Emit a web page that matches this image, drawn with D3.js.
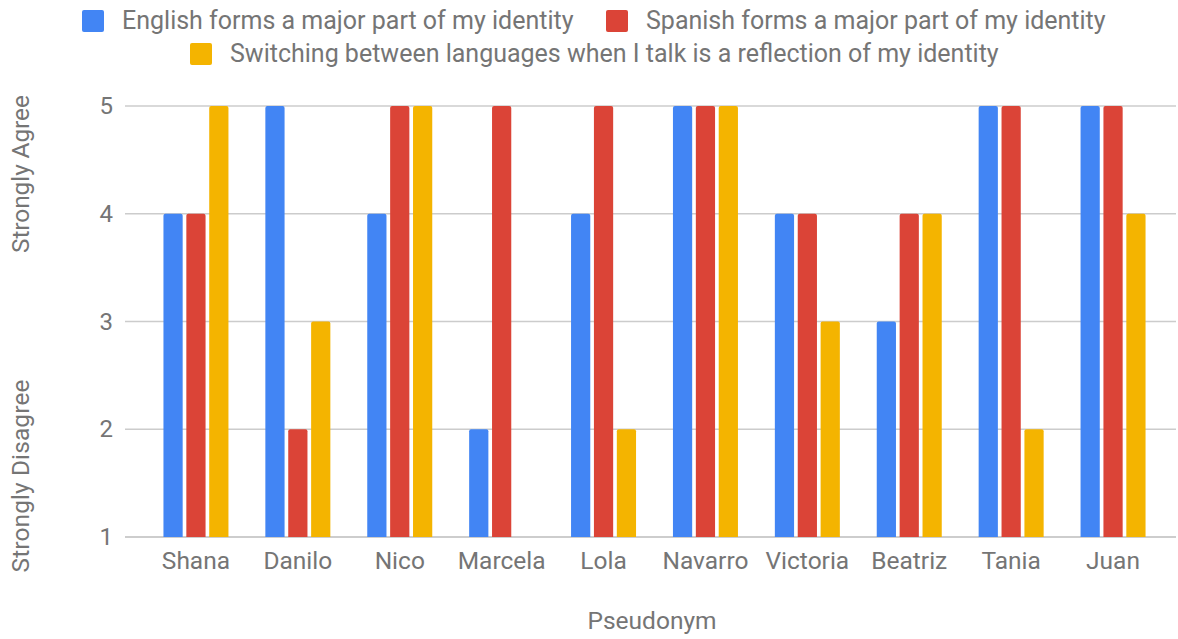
<!DOCTYPE html>
<html>
<head>
<meta charset="utf-8">
<script src="https://cdn.jsdelivr.net/npm/d3@7"></script>
<style>
  body { margin: 0; background: #fff; }
  text { font-family: Roboto, "Noto Sans", sans-serif; fill: #757575; }
</style>
</head>
<body>
<div id="chart"></div>
<script>
var names = ["Shana", "Danilo", "Nico", "Marcela", "Lola", "Navarro", "Victoria", "Beatriz", "Tania", "Juan"];
var seriesNames = [
  "English forms a major part of my identity",
  "Spanish forms a major part of my identity",
  "Switching between languages when I talk is a reflection of my identity"
];
var english   = [4, 5, 4, 2, 4, 5, 4, 3, 5, 5];
var spanish   = [4, 2, 5, 5, 5, 5, 4, 4, 5, 5];
var switching = [5, 3, 5, 1, 2, 5, 3, 4, 2, 4];
var yTicks = [1, 2, 3, 4, 5];
var colors = ["#4285F4", "#DB4437", "#F4B400"];

var W = 1178, H = 639;
var svg = d3.select("#chart").append("svg")
    .attr("width", W)
    .attr("height", H);

var x = d3.scaleBand().domain(names).range([145, 1164]);
var inner = d3.scaleBand().domain([0, 1, 2])
    .range([(x.bandwidth() - 65) / 2, (x.bandwidth() + 65) / 2])
    .paddingInner(0.16);
var y = d3.scaleLinear().domain([1, 5]).range([537, 106]);

// gridlines
svg.append("g").selectAll("line")
    .data(yTicks)
    .enter().append("line")
    .attr("x1", 125).attr("x2", 1176)
    .attr("y1", function(d) { return y(d); })
    .attr("y2", function(d) { return y(d); })
    .attr("stroke", function(d) { return d === 1 ? "#bdbdbd" : "#cccccc"; })
    .attr("stroke-width", 1.5);

// y tick labels
svg.append("g").selectAll("text")
    .data(yTicks)
    .enter().append("text")
    .attr("x", 113)
    .attr("y", function(d) { return y(d) + 8; })
    .attr("text-anchor", "end")
    .style("font-size", "24px")
    .text(function(d) { return d; });

// bars
var rows = [];
names.forEach(function(n, i) {
    [english, spanish, switching].forEach(function(s, j) {
        rows.push({ name: n, k: j, v: s[i] });
    });
});

svg.append("g").selectAll("path")
    .data(rows.filter(function(d) { return d.v > 1; }))
    .enter().append("path")
    .attr("fill", function(d) { return colors[d.k]; })
    .attr("d", function(d) {
        var x0 = x(d.name) + inner(d.k), w = inner.bandwidth();
        var y0 = y(d.v), y1 = y(1), r = 2;
        return "M" + x0 + "," + y1 + "V" + (y0 + r) +
            "Q" + x0 + "," + y0 + " " + (x0 + r) + "," + y0 +
            "H" + (x0 + w - r) +
            "Q" + (x0 + w) + "," + y0 + " " + (x0 + w) + "," + (y0 + r) +
            "V" + y1 + "Z";
    });

// x labels
svg.append("g").selectAll("text")
    .data(names)
    .enter().append("text")
    .attr("x", function(d) { return x(d) + x.bandwidth() / 2; })
    .attr("y", 569)
    .attr("text-anchor", "middle")
    .style("font-size", "24.5px")
    .text(function(d) { return d; });

// axis titles
svg.append("text")
    .attr("x", 652).attr("y", 629)
    .attr("text-anchor", "middle")
    .style("font-size", "24.5px")
    .text("Pseudonym");

svg.append("text")
    .attr("transform", "translate(29,174) rotate(-90)")
    .attr("text-anchor", "middle")
    .style("font-size", "24.5px")
    .attr("textLength", 158)
    .attr("lengthAdjust", "spacing")
    .text("Strongly Agree");

svg.append("text")
    .attr("transform", "translate(29,476) rotate(-90)")
    .attr("text-anchor", "middle")
    .style("font-size", "24.5px")
    .attr("textLength", 193)
    .attr("lengthAdjust", "spacing")
    .text("Strongly Disagree");

// legend
var legendPos = [[82, 21], [606, 21], [190, 54]];
var leg = svg.append("g").selectAll("g")
    .data(seriesNames)
    .enter().append("g")
    .attr("transform", function(d, i) { return "translate(" + legendPos[i][0] + "," + legendPos[i][1] + ")"; });

leg.append("rect")
    .attr("x", 0).attr("y", -11)
    .attr("width", 22).attr("height", 22)
    .attr("rx", 2)
    .attr("fill", function(d, i) { return colors[i]; });

leg.append("text")
    .attr("x", 40).attr("y", 8)
    .style("font-size", "25px")
    .text(function(d) { return d; });
</script>
</body>
</html>
